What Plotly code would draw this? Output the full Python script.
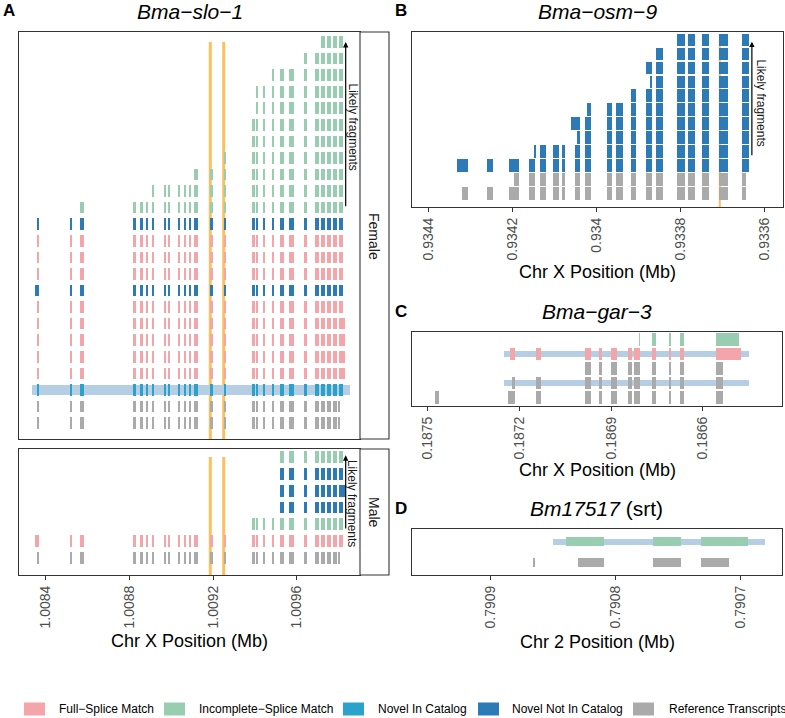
import plotly.graph_objects as go

W, H = 785, 718
FONT = "Liberation Sans, Arial, Helvetica, sans-serif"

# ---------------- categories ----------------
cat_codes = ["FSM", "ISM", "NIC", "NNC", "REF"]
cat_labels = ["Full\u2212Splice Match", "Incomplete\u2212Splice Match",
              "Novel In Catalog", "Novel Not In Catalog", "Reference Transcripts"]
cat_colors = ["#F4A5AA", "#98CDB1", "#2BA2CB", "#2C7BB6", "#AAAAAA"]
band_color = "#B6CEE4"
site_color = "#FDC05A"

# ---------------- Panel A: Bma-slo-1 (Chr X, Mb) ----------------
A_exon_start = [1.0083602, 1.0085183, 1.0085629, 1.0088167, 1.0088503, 1.0088790, 1.0089077,
                1.0089667, 1.0089829, 1.0090308, 1.0090596, 1.0090835, 1.0091104, 1.0091856,
                1.0092512, 1.0093882, 1.0094059, 1.0094428, 1.0094840, 1.0095223, 1.0095640,
                1.0096344, 1.0096885, 1.0097173, 1.0097446, 1.0097714, 1.0098001]
A_exon_end = [1.0083698, 1.0085279, 1.0085835, 1.0088311, 1.0088646, 1.0088886, 1.0089188,
              1.0089762, 1.0089940, 1.0090419, 1.0090706, 1.0090960, 1.0091266, 1.0091999,
              1.0092622, 1.0094011, 1.0094169, 1.0094490, 1.0094921, 1.0095400, 1.0095894,
              1.0096488, 1.0097043, 1.0097331, 1.0097618, 1.0097905, 1.0098193]
A_female_cat = ["ISM"] * 11 + ["NNC", "FSM", "FSM", "FSM", "NNC", "FSM", "FSM", "FSM",
                               "FSM", "FSM", "NIC", "REF", "REF"]
A_female_first = [23, 21, 18, 16, 16, 15, 15, 14, 12, 6, 2] + [0] * 13
A_female_last = [26] * 24
A_female_override = {(16, 0): (1.0083503, None), (18, 26): (None, 1.0098322),
                     (19, 26): (None, 1.0098322), (20, 26): (None, 1.0098322),
                     (21, 26): (None, 1.0098322), (23, 26): (None, 1.0098037),
                     (24, 26): (None, 1.0098037)}
A_female_band_rows = [22]
A_male_cat = ["ISM", "NNC", "NNC", "NNC", "ISM", "FSM", "REF"]
A_male_first = [19, 19, 19, 19, 15, 0, 0]
A_male_last = [26] * 7
A_male_override = {(3, 26): (None, 1.0098322), (6, 0): (1.0083503, None),
                   (7, 26): (None, 1.0098037)}
A_band = (1.0083363, 1.0098562)
A_sites = [1.0091869, 1.0092510]
A_ticks = [1.0084, 1.0088, 1.0092, 1.0096]
A_ticktext = ["1.0084", "1.0088", "1.0092", "1.0096"]

# ---------------- Panel B: Bma-osm-9 (Chr X, Mb) ----------------
B_exon_start = [0.9343317, 0.9342602, 0.9342088, 0.9341612, 0.9341350, 0.9341040, 0.9340826,
                0.9340500, 0.9340262, 0.9339745, 0.9339531, 0.9339190, 0.9338817, 0.9338588,
                0.9338095, 0.9337817, 0.9337483, 0.9337088, 0.9336555]
B_exon_end = [0.9343040, 0.9342460, 0.9341850, 0.9341452, 0.9341190, 0.9340898, 0.9340738,
              0.9340381, 0.9340126, 0.9339626, 0.9339381, 0.9339071, 0.9338674, 0.9338412,
              0.9337905, 0.9337659, 0.9337326, 0.9336888, 0.9336388]
B_cat = ["NNC"] * 10 + ["REF", "REF"]
B_first = [14, 13, 12, 12, 11, 8, 7, 7, 3, 0, 2, 0]
B_last = [18] * 12
B_override = {(4, 12): (0.9338738, None), (6, 8): (0.9340214, None), (7, 7): (0.9340602, None),
              (8, 7): (0.9340460, None), (9, 3): (0.9341493, None), (11, 2): (0.9341952, None),
              (11, 18): (None, 0.9336459), (12, 0): (0.9343198, None), (12, 18): (None, 0.9336459)}
B_sites = [0.9337071]
B_ticks = [0.9344, 0.9342, 0.9340, 0.9338, 0.9336]
B_ticktext = ["0.9344", "0.9342", "0.934", "0.9338", "0.9336"]

# ---------------- Panel C: Bma-gar-3 (Chr X, Mb) ----------------
C_exon_start = [0.187477, 0.187232, 0.187147, 0.186985, 0.186940, 0.186901, 0.186846,
                0.186825, 0.186768, 0.186712, 0.186675, 0.186557]
C_exon_end = [0.187465, 0.187216, 0.187130, 0.186965, 0.186929, 0.186881, 0.186833,
              0.186806, 0.186753, 0.186703, 0.186662, 0.186533]
C_cat = ["ISM", "FSM", "REF", "REF", "REF"]
C_first = [7, 1, 3, 1, 0]
C_last = [11, 11, 11, 11, 11]
C_override = {(1, 7): (0.186809, None), (1, 11): (None, 0.186482), (2, 11): (None, 0.186476),
              (4, 1): (0.187226, None), (5, 1): (0.187237, None)}
C_band_rows = [2, 4]
C_band = (0.187250, 0.186448)
C_ticks = [0.1875, 0.1872, 0.1869, 0.1866]
C_ticktext = ["0.1875", "0.1872", "0.1869", "0.1866"]

# ---------------- Panel D: Bm17517 (srt) (Chr 2, Mb) ----------------
D_exon_start = [0.7908660, 0.7908398, 0.7907696, 0.7907313]
D_exon_end = [0.7908645, 0.7908089, 0.7907474, 0.7906934]
D_cat = ["ISM", "REF"]
D_first = [1, 0]
D_last = [3, 3]
D_override = {(2, 1): (0.7908297, None), (2, 3): (None, 0.7907089)}
D_band_rows = [1]
D_band = (0.7908503, 0.7906800)
D_ticks = [0.7909, 0.7908, 0.7907]
D_ticktext = ["0.7909", "0.7908", "0.7907"]


# ---------------- helpers ----------------
def px_x(p):
    return p / W


def px_y(p):
    return 1 - p / H


def collect(cats, firsts, lasts, starts, ends, override):
    out = {c: {"base": [], "len": [], "y": []} for c in cat_codes}
    for r, (cat, f, l) in enumerate(zip(cats, firsts, lasts), start=1):
        for i in range(f, l + 1):
            s, e = starts[i], ends[i]
            ov = override.get((r, i))
            if ov:
                s = ov[0] if ov[0] is not None else s
                e = ov[1] if ov[1] is not None else e
            lo, hi = min(s, e), max(s, e)
            out[cat]["base"].append(lo)
            out[cat]["len"].append(hi - lo)
            out[cat]["y"].append(r)
    return out


fig = go.Figure()


def add_panel(xa, ya, data, height, band_rows=None, band=None, band_h=0.5):
    if band_rows:
        lo, hi = min(band), max(band)
        fig.add_trace(go.Bar(orientation="h", base=[lo] * len(band_rows),
                             x=[hi - lo] * len(band_rows), y=band_rows, width=band_h,
                             marker=dict(color=band_color, line=dict(width=0)),
                             xaxis=xa, yaxis=ya, showlegend=False, hoverinfo="skip"))
    for code, col in zip(cat_codes, cat_colors):
        d = data[code]
        if not d["y"]:
            continue
        fig.add_trace(go.Bar(orientation="h", base=d["base"], x=d["len"], y=d["y"],
                             width=height, marker=dict(color=col, line=dict(width=0)),
                             xaxis=xa, yaxis=ya, showlegend=False, hoverinfo="skip"))


add_panel("x", "y", collect(A_female_cat, A_female_first, A_female_last,
                            A_exon_start, A_exon_end, A_female_override), 0.7,
          A_female_band_rows, A_band, 0.6)
add_panel("x2", "y2", collect(A_male_cat, A_male_first, A_male_last,
                              A_exon_start, A_exon_end, A_male_override), 0.7)
add_panel("x3", "y3", collect(B_cat, B_first, B_last, B_exon_start, B_exon_end, B_override), 0.9)
add_panel("x4", "y4", collect(C_cat, C_first, C_last, C_exon_start, C_exon_end, C_override), 0.86,
          C_band_rows, C_band, 0.46)
add_panel("x5", "y5", collect(D_cat, D_first, D_last, D_exon_start, D_exon_end, D_override), 0.46,
          D_band_rows, D_band, 0.29)

# ---------------- axes ----------------
yr_female = [24.966, 0.396]
yr_male = [8.01, 0.525]
yr_B = [12.98, 0.426]
yr_C = [5.62, 0.473]
yr_D = [2.594, 0.386]

line_kw = dict(showline=True, mirror=True, linecolor="#333333", linewidth=1.1,
               showgrid=False, zeroline=False)
tick_kw = dict(ticks="outside", ticklen=4, tickwidth=1, tickcolor="#333333", tickangle=-90,
               tickfont=dict(family=FONT, size=14, color="#4D4D4D"), tickmode="array")
noy = dict(showticklabels=False, ticks="", **line_kw)

fig.update_layout(
    xaxis=dict(domain=[px_x(19), px_x(360)], range=[1.0082723, 1.0099027], anchor="y",
               showticklabels=False, ticks="", **line_kw),
    yaxis=dict(domain=[px_y(439), px_y(32)], range=yr_female, anchor="x", **noy),
    xaxis2=dict(domain=[px_x(19), px_x(360)], range=[1.0082723, 1.0099027], anchor="y2",
                tickvals=A_ticks, ticktext=A_ticktext, **tick_kw, **line_kw),
    yaxis2=dict(domain=[px_y(575), px_y(449)], range=yr_male, anchor="x2", **noy),
    xaxis3=dict(domain=[px_x(412), px_x(783)], range=[0.934438, 0.933557], anchor="y3",
                tickvals=B_ticks, ticktext=B_ticktext, **tick_kw, **line_kw),
    yaxis3=dict(domain=[px_y(207), px_y(32)], range=yr_B, anchor="x3", **noy),
    xaxis4=dict(domain=[px_x(412), px_x(782)], range=[0.187552, 0.186341], anchor="y4",
                tickvals=C_ticks, ticktext=C_ticktext, **tick_kw, **line_kw),
    yaxis4=dict(domain=[px_y(406), px_y(331.7)], range=yr_C, anchor="x4", **noy),
    xaxis5=dict(domain=[px_x(412), px_x(782)], range=[0.7909631, 0.7906664], anchor="y5",
                tickvals=D_ticks, ticktext=D_ticktext, **tick_kw, **line_kw),
    yaxis5=dict(domain=[px_y(575), px_y(529.3)], range=yr_D, anchor="x5", **noy),
)

shapes = []
# highlighted sites (drawn below the transcripts)
for s in A_sites:
    shapes.append(dict(type="line", xref="x", yref="y", x0=s, x1=s, y0=1, y1=yr_female[0],
                       layer="below", line=dict(color=site_color, width=3)))
    shapes.append(dict(type="line", xref="x2", yref="y2", x0=s, x1=s, y0=1, y1=yr_male[0],
                       layer="below", line=dict(color=site_color, width=3)))
for s in B_sites:
    shapes.append(dict(type="line", xref="x3", yref="y3", x0=s, x1=s, y0=1, y1=yr_B[0],
                       layer="below", line=dict(color=site_color, width=2)))
# facet strips
for y0, y1 in [(32, 439), (449, 575)]:
    shapes.append(dict(type="rect", xref="paper", yref="paper", x0=px_x(360), x1=px_x(389),
                       y0=px_y(y1), y1=px_y(y0), line=dict(color="#333333", width=1.1),
                       fillcolor="white", layer="above"))
# legend swatches
leg_swatch_x = [24, 164, 343, 478, 633]
leg_text_x = [57, 197, 376, 510, 667]
for sx, col in zip(leg_swatch_x, cat_colors):
    shapes.append(dict(type="rect", xref="paper", yref="paper", x0=px_x(sx), x1=px_x(sx + 21),
                       y0=px_y(715.5), y1=px_y(702.5), line=dict(width=0), fillcolor=col))
fig.update_layout(shapes=shapes)

ann = []


def text(x, y, t, size, color="#000000", angle=0, xanchor="center", xref="paper", yref="paper"):
    if xref == "paper":
        x = px_x(x)
    if yref == "paper":
        y = px_y(y)
    ann.append(dict(x=x, y=y, xref=xref, yref=yref, text=t, showarrow=False, textangle=angle,
                    xanchor=xanchor, yanchor="middle",
                    font=dict(family=FONT, size=size, color=color)))


# titles and panel letters
text(190, 12, "<i>Bma\u2212slo\u22121</i>", 21)
text(597, 12, "<i>Bma\u2212osm\u22129</i>", 21)
text(597, 311, "<i>Bma\u2212gar\u22123</i>", 21)
text(596, 509, "<i>Bm17517</i> (srt)", 21)
for lx, ly, lt in [(9, 11, "A"), (401, 11, "B"), (401, 311, "C"), (401, 509, "D")]:
    text(lx, ly, "<b>" + lt + "</b>", 17)
# axis titles
text(189, 641, "Chr X Position (Mb)", 18)
text(597, 272, "Chr X Position (Mb)", 18)
text(597, 470, "Chr X Position (Mb)", 18)
text(597, 642, "Chr 2 Position (Mb)", 18)
# strips
text(374, 236, "Female", 14, "#1A1A1A", 90)
text(374, 512, "Male", 14, "#1A1A1A", 90)
# legend labels
for tx, lab in zip(leg_text_x, cat_labels):
    text(tx, 709, lab, 12, "#000000", 0, "left")

# likely-fragment arrows and labels
for xr, yr, ax_x, y_tail, y_tip, tx_x, tx_y in [
        ("x", "y", 1.0098343, 11, 1.0, 1.0098645, 6.1),
        ("x2", "y2", 1.0098343, 5.34, 0.9, 1.0098645, 3.73),
        ("x3", "y3", 0.9336309, 9.37, 1.12, 0.9336095, 5.54)]:
    ann.append(dict(x=ax_x, y=y_tip, xref=xr, yref=yr, ax=ax_x, ay=y_tail, axref=xr, ayref=yr,
                    text="", showarrow=True, arrowhead=2, arrowsize=0.9, arrowwidth=1.2,
                    arrowcolor="#000000"))
    text(tx_x, tx_y, "Likely fragments", 12, "#1A1A1A", 90, "center", xr, yr)

fig.update_layout(
    annotations=ann,
    width=W, height=H, margin=dict(l=0, r=0, t=0, b=0),
    paper_bgcolor="white", plot_bgcolor="white",
    barmode="overlay", bargap=0, showlegend=False,
    font=dict(family=FONT),
)

fig.write_html("out.html", config={"displayModeBar": False},
               post_script="document.body.style.margin='0';document.body.style.overflow='hidden';")
